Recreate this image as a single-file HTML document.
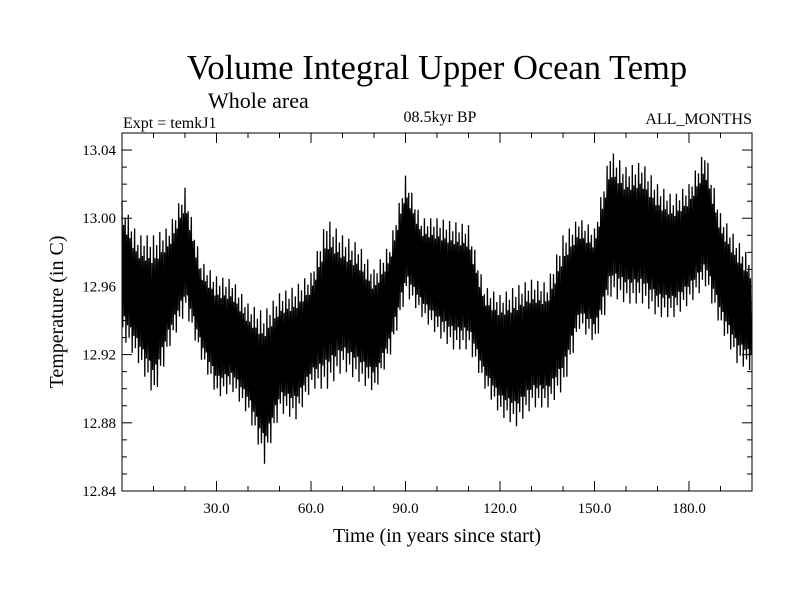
<!DOCTYPE html>
<html><head><meta charset="utf-8"><style>
html,body{margin:0;padding:0;background:#fff;}
svg text{font-family:"Liberation Serif",serif;fill:#000;}
</style></head><body>
<svg id="c" width="800" height="600" xmlns="http://www.w3.org/2000/svg">
<text x="437" y="79" font-size="34.5" text-anchor="middle">Volume Integral Upper Ocean Temp</text>
<text x="208" y="108" font-size="22">Whole area</text>
<text x="123" y="128" font-size="16">Expt = temkJ1</text>
<text x="440" y="122" font-size="16" text-anchor="middle">08.5kyr BP</text>
<text x="752" y="124" font-size="16" text-anchor="end">ALL_MONTHS</text>
<text x="437" y="542" font-size="20" text-anchor="middle">Time (in years since start)</text>
<text transform="translate(63,312) rotate(-90)" font-size="20" text-anchor="middle">Temperature (in C)</text>
<g id="ax"></g>
<path id="series" fill="none" stroke="#000" stroke-width="1.3"/>
<rect x="122" y="133" width="630" height="358" fill="none" stroke="#000" stroke-width="1"/>
</svg>
<script>
const years = [0,5,10,15,20,25,30,35,40,45,50,55,60,65,70,75,80,85,90,95,100,105,110,115,120,125,130,135,140,145,150,155,160,165,170,175,180,185,190,195,200];
const hiVals = [13.01,12.99,12.99,12.995,13.018,12.975,12.966,12.964,12.95,12.945,12.956,12.96,12.968,13.0,12.99,12.985,12.97,12.985,13.025,13.0,13.0,12.998,12.996,12.96,12.955,12.96,12.964,12.962,12.99,13.0,12.994,13.04,13.03,13.033,13.02,13.013,13.02,13.04,13.003,12.988,12.975];
const loVals = [12.93,12.915,12.895,12.925,12.945,12.917,12.895,12.898,12.884,12.856,12.886,12.882,12.9,12.9,12.911,12.904,12.898,12.92,12.955,12.942,12.931,12.923,12.923,12.9,12.884,12.878,12.889,12.889,12.9,12.935,12.927,12.954,12.95,12.95,12.942,12.942,12.95,12.96,12.935,12.915,12.91];
const xTickLabels = ["30.0","60.0","90.0","120.0","150.0","180.0"];
const yTickLabels = ["12.84","12.88","12.92","12.96","13.00","13.04"];
const X0=122,X1=752,Y0=491,Y1=133,xmin=0,xmax=200,ymin=12.84,ymax=13.05;
const sx=v=>X0+(v-xmin)/(xmax-xmin)*(X1-X0);
const sy=v=>Y0-(v-ymin)/(ymax-ymin)*(Y0-Y1);
const NS="http://www.w3.org/2000/svg";
const ax=document.getElementById('ax');
function ln(x1,y1,x2,y2,name){const l=document.createElementNS(NS,'line');l.setAttribute('x1',x1);l.setAttribute('y1',y1);l.setAttribute('x2',x2);l.setAttribute('y2',y2);l.setAttribute('stroke','#000');


ax.appendChild(l);}
function tx(x,y,s,anchor,name){const t=document.createElementNS(NS,'text');t.setAttribute('x',x);t.setAttribute('y',y);t.setAttribute('font-size','15');t.setAttribute('text-anchor',anchor);t.textContent=s;


ax.appendChild(t);}
for(let v=10;v<200;v+=10){const x=sx(v),L=(v%30===0)?10:5;ln(x,Y0,x,Y0-L,'x-tick');ln(x,Y1,x,Y1+L,'x-tick-top');}
xTickLabels.forEach(s=>tx(sx(parseFloat(s)),Y0+22,s,'middle','x-tick-label'));
for(let k=1;k<21;k++){const v=ymin+k*0.01,y=sy(v),L=(k%4===0)?10:5;ln(X0,y,X0+L,y,'y-tick');ln(X1,y,X1-L,y,'y-tick-right');}
yTickLabels.forEach(s=>tx(X0-6,sy(parseFloat(s))+5,s,'end','y-tick-label'));
function env(arr,t){let i=0;while(i<years.length-2&&years[i+1]<=t)i++;const f=(t-years[i])/(years[i+1]-years[i]);return arr[i]+(arr[i+1]-arr[i])*Math.min(1,Math.max(0,f));}
// spike depth pattern within each year (fraction of envelope reached) - styling only
const reach=[1,0.7,0.85,0.65];
let d='';
for(let t=0;t<=199.75;t+=0.5){
  const k=Math.round(t*2)%4, r=reach[k];
  const h=env(hiVals,t),l=env(loVals,t),m=(h+l)/2;
  const hh=m+(h-m)*r, ll=m-(m-l)*reach[(k+2)%4];
  d+=(d?'L':'M')+sx(t).toFixed(1)+','+sy(hh).toFixed(1)+'L'+sx(t+0.25).toFixed(1)+','+sy(ll).toFixed(1);
}
document.getElementById('series').setAttribute('d',d);
</script>
</body></html>
